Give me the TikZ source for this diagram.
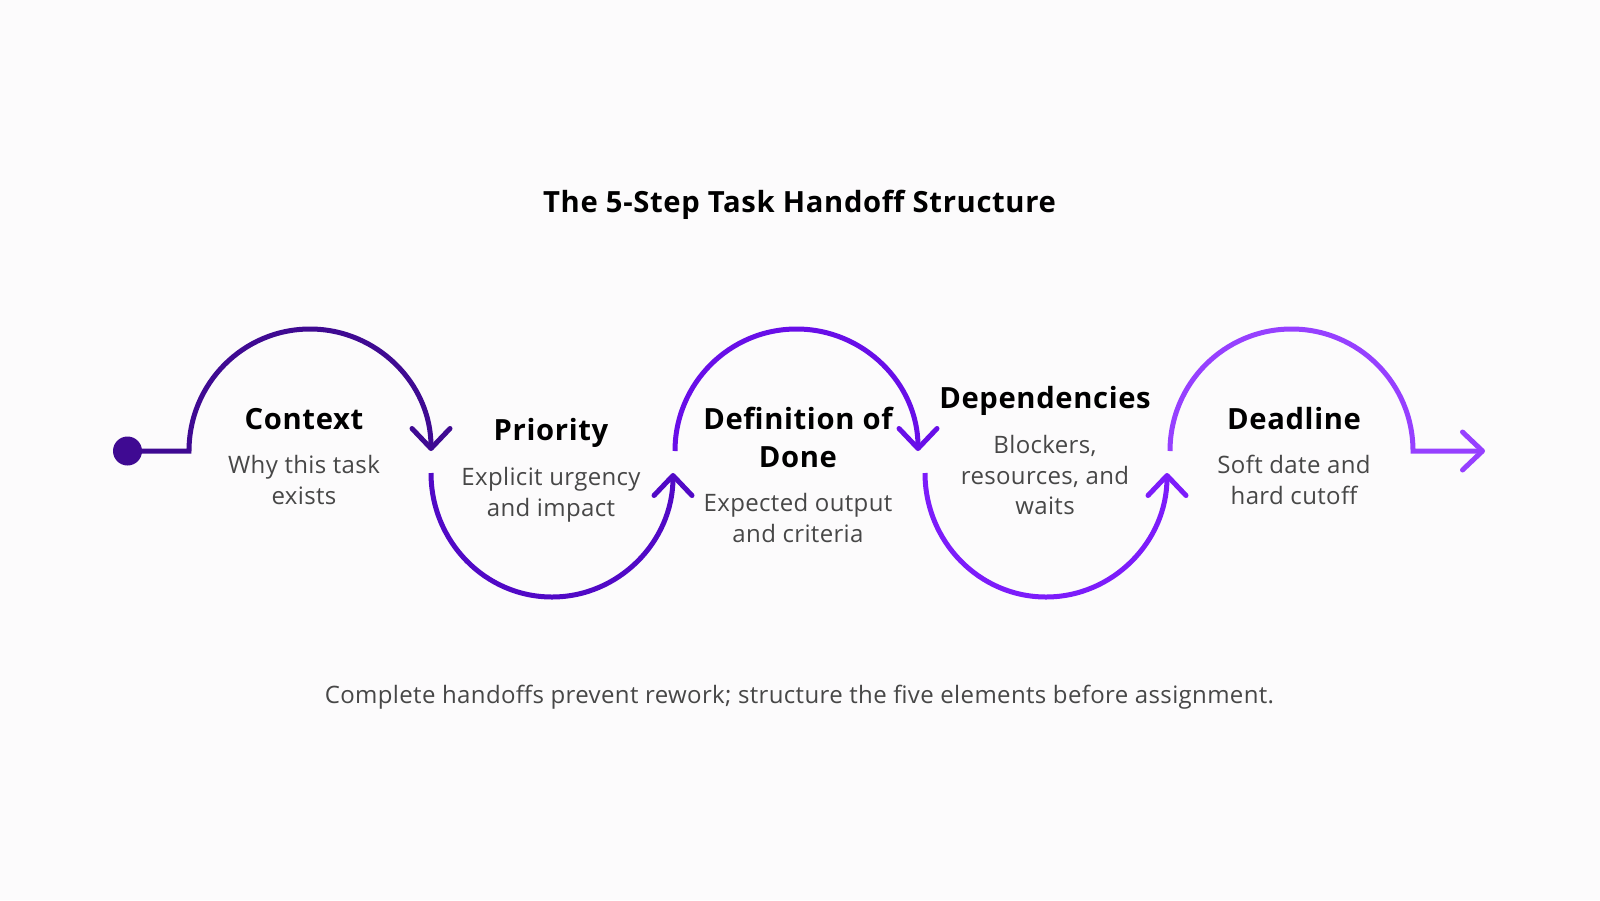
\documentclass[tikz,border=0pt]{standalone}
\usepackage{fontspec}
\setmainfont{Open Sans}[LetterSpace=1.5,BoldFeatures={LetterSpace=2.2}]
\usepackage{xcolor}
\usepackage{tikz}
\usetikzlibrary{arrows.meta,positioning}
\definecolor{stepa}{HTML}{3F0A92}
\definecolor{stepb}{HTML}{5109C6}
\definecolor{stepc}{HTML}{680EE8}
\definecolor{stepd}{HTML}{7C1CFA}
\definecolor{stepe}{HTML}{9640FF}
\definecolor{inkgray}{HTML}{474747}
\definecolor{canvas}{HTML}{FCFBFC}
\tikzset{
  arr/.style={-{Straight Barb[round,length=10pt,width=19pt]},line width=2.5pt},
  head/.style={font=\fontsize{14.6}{19}\selectfont\bfseries,align=center,
    inner sep=0pt,anchor=north,text=black},
  desc/.style={font=\fontsize{12}{15.3}\selectfont,text=inkgray,
    align=center,inner sep=0pt,anchor=north},
}

\begin{document}
\begin{tikzpicture}[x=0.5pt,y=-0.5pt]
\fill[canvas] (0,0) rectangle (1600,900);

\node[head,anchor=center] (title) at (799.5,205) {The 5-Step Task Handoff Structure};

\coordinate (w0) at (189,451);
\coordinate (w1) at (431,473);
\coordinate (w2) at (675,451);
\coordinate (w3) at (925,473);
\coordinate (w4) at (1170,451);
\coordinate (w5) at (1485,451);
\node[circle,fill=stepa,minimum size=14.5pt,inner sep=0pt] (start) at (127.5,451) {};

\draw[arr,stepa] (start.center) -- (w0) arc[start angle=180,end angle=360,x radius=121,y radius=122];
\draw[arr,stepb] (w1) arc[start angle=180,end angle=0,x radius=121,y radius=124];
\draw[arr,stepc] (w2) arc[start angle=180,end angle=360,x radius=121.5,y radius=122];
\draw[arr,stepd] (w3) arc[start angle=180,end angle=0,x radius=121,y radius=124];
\draw[arr,stepe] (w4) arc[start angle=180,end angle=360,x radius=121.5,y radius=122] -- (w5);

\node[head] (ctx) at (304,408) {Context};
\node[desc] (ctxd) at (304,455) {Why this task\\exists};
\node[head] (pri) at (551,418) {Priority};
\node[desc] (prid) at (551,467) {Explicit urgency\\and impact};
\node[head] (dod) at (798,407) {Definition of\\Done};
\node[desc] (dodd) at (798,493) {Expected output\\and criteria};
\node[head] (dep) at (1045,386) {Dependencies};
\node[desc] (depd) at (1045,435) {Blockers,\\resources, and\\waits};
\node[head] (ddl) at (1294,407) {Deadline};
\node[desc] (ddld) at (1294,455) {Soft date and\\hard cutoff};

\node[desc,anchor=center] (note) at (799.5,697) {Complete handoffs prevent rework; structure the five elements before assignment.};
\end{tikzpicture}
\end{document}
